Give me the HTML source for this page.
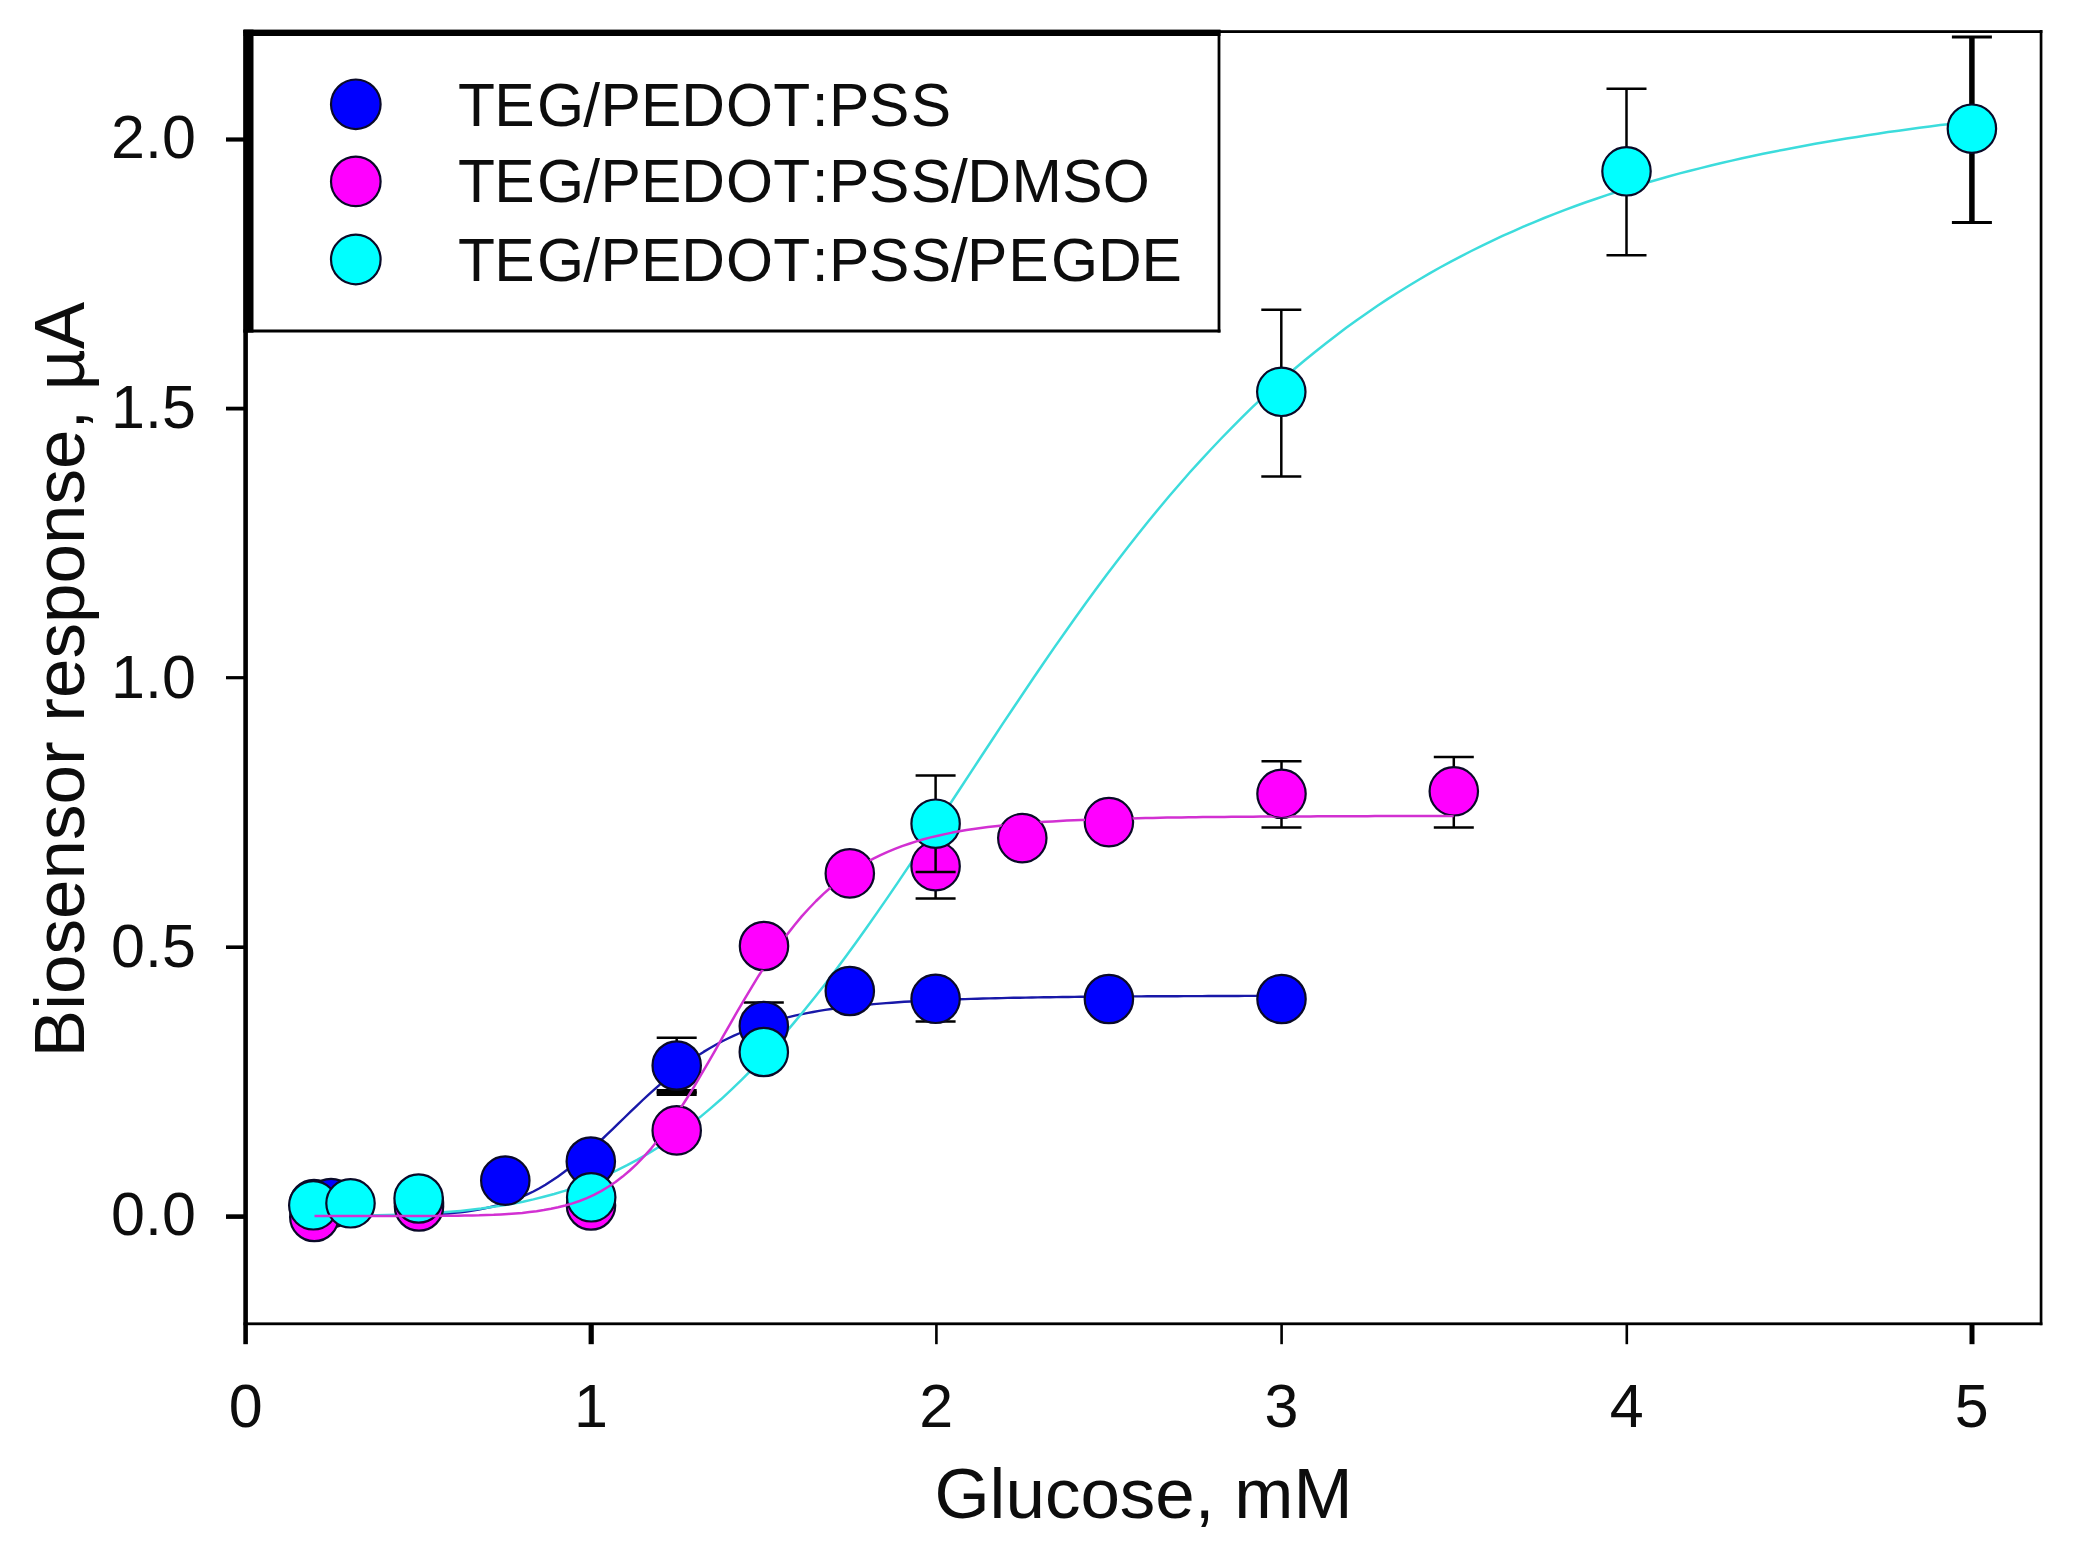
<!DOCTYPE html>
<html lang="en"><head><meta charset="utf-8"><title>Biosensor response vs glucose</title>
<style>html,body{margin:0;padding:0;background:#fff}body{width:2078px;height:1553px;overflow:hidden}</style></head>
<body>
<svg width="2078" height="1553" viewBox="0 0 2078 1553" style="display:block">
<rect width="2078" height="1553" fill="#fff"/>
<g fill="#000">
<rect x="243.3" y="30" width="4.6" height="1314.2"/>
<rect x="243.5" y="30.2" width="1798.9" height="2.8"/>
<rect x="2039.7" y="30" width="2.7" height="1295.2"/>
<rect x="243.5" y="1322.4" width="1798.9" height="2.8"/>
<rect x="243.5" y="29.6" width="10" height="303"/>
<rect x="243.5" y="29.6" width="977" height="6.4"/>
<rect x="1217.6" y="30" width="2.8" height="302.5"/>
<rect x="243.5" y="329.5" width="977" height="3"/>
<rect x="226" y="1214.3" width="19" height="4.6"/>
<rect x="226" y="945.4" width="19" height="3.6"/>
<rect x="226" y="676.1" width="19" height="3.2"/>
<rect x="226" y="406.7" width="19" height="3.8"/>
<rect x="226" y="137.4" width="19" height="4.2"/>
<rect x="588.6" y="1323" width="5.2" height="21.2"/>
<rect x="935.1" y="1323" width="2.6" height="21.2"/>
<rect x="1280.3" y="1323" width="2.6" height="21.2"/>
<rect x="1625.5" y="1323" width="2.6" height="21.2"/>
<rect x="1969.5" y="1323" width="5" height="21.2"/>
</g>
<polyline points="314.5,1216.0 320.6,1216.0 326.7,1216.0 332.8,1216.0 338.9,1216.0 344.9,1216.0 351.0,1216.0 357.1,1216.0 363.2,1215.9 369.3,1215.9 375.3,1215.9 381.4,1215.8 387.5,1215.8 393.6,1215.7 399.6,1215.6 405.7,1215.5 411.8,1215.3 417.9,1215.1 424.0,1214.9 430.0,1214.6 436.1,1214.3 442.2,1213.9 448.3,1213.5 454.4,1212.9 460.4,1212.2 466.5,1211.5 472.6,1210.6 478.7,1209.6 484.8,1208.4 490.8,1207.0 496.9,1205.5 503.0,1203.7 509.1,1201.8 515.1,1199.6 521.2,1197.1 527.3,1194.4 533.4,1191.5 539.5,1188.2 545.5,1184.7 551.6,1180.8 557.7,1176.7 563.8,1172.3 569.9,1167.6 575.9,1162.7 582.0,1157.6 588.1,1152.2 594.2,1146.7 600.3,1141.0 606.3,1135.2 612.4,1129.4 618.5,1123.4 624.6,1117.5 630.6,1111.6 636.7,1105.8 642.8,1100.0 648.9,1094.4 655.0,1088.9 661.0,1083.6 667.1,1078.4 673.2,1073.5 679.3,1068.7 685.4,1064.2 691.4,1059.9 697.5,1055.8 703.6,1051.9 709.7,1048.2 715.8,1044.8 721.8,1041.5 727.9,1038.5 734.0,1035.6 740.1,1033.0 746.1,1030.5 752.2,1028.1 758.3,1026.0 764.4,1023.9 770.5,1022.0 776.5,1020.3 782.6,1018.6 788.7,1017.1 794.8,1015.7 800.9,1014.4 806.9,1013.1 813.0,1012.0 819.1,1010.9 825.2,1009.9 831.3,1009.0 837.3,1008.1 843.4,1007.3 849.5,1006.6 855.6,1005.9 861.6,1005.3 867.7,1004.7 873.8,1004.1 879.9,1003.6 886.0,1003.1 892.0,1002.7 898.1,1002.2 904.2,1001.8 910.3,1001.5 916.4,1001.1 922.4,1000.8 928.5,1000.5 934.6,1000.2 940.7,1000.0 946.8,999.7 952.8,999.5 958.9,999.3 965.0,999.1 971.1,998.9 977.2,998.7 983.2,998.5 989.3,998.4 995.4,998.2 1001.5,998.1 1007.5,997.9 1013.6,997.8 1019.7,997.7 1025.8,997.6 1031.9,997.5 1037.9,997.4 1044.0,997.3 1050.1,997.2 1056.2,997.1 1062.3,997.0 1068.3,997.0 1074.4,996.9 1080.5,996.8 1086.6,996.8 1092.7,996.7 1098.7,996.7 1104.8,996.6 1110.9,996.6 1117.0,996.5 1123.0,996.5 1129.1,996.4 1135.2,996.4 1141.3,996.4 1147.4,996.3 1153.4,996.3 1159.5,996.3 1165.6,996.2 1171.7,996.2 1177.8,996.2 1183.8,996.1 1189.9,996.1 1196.0,996.1 1202.1,996.1 1208.2,996.0 1214.2,996.0 1220.3,996.0 1226.4,996.0 1232.5,996.0 1238.5,996.0 1244.6,995.9 1250.7,995.9 1256.8,995.9 1262.9,995.9 1268.9,995.9 1275.0,995.9 1281.1,995.9" fill="none" stroke="#1818a8" stroke-width="2.4" stroke-linejoin="round"/>
<polyline points="314.5,1215.9 325.0,1215.9 335.4,1215.9 345.8,1215.8 356.2,1215.7 366.6,1215.5 377.1,1215.3 387.5,1215.1 397.9,1214.7 408.3,1214.3 418.8,1213.9 429.2,1213.3 439.6,1212.6 450.0,1211.8 460.4,1210.9 470.9,1209.8 481.3,1208.6 491.7,1207.1 502.1,1205.5 512.5,1203.7 523.0,1201.7 533.4,1199.4 543.8,1196.8 554.2,1194.0 564.6,1190.9 575.1,1187.5 585.5,1183.7 595.9,1179.7 606.3,1175.2 616.8,1170.4 627.2,1165.2 637.6,1159.6 648.0,1153.6 658.4,1147.2 668.9,1140.3 679.3,1133.0 689.7,1125.3 700.1,1117.1 710.5,1108.4 721.0,1099.3 731.4,1089.7 741.8,1079.7 752.2,1069.2 762.6,1058.3 773.1,1046.9 783.5,1035.1 793.9,1022.9 804.3,1010.3 814.8,997.3 825.2,984.0 835.6,970.3 846.0,956.2 856.4,941.9 866.9,927.3 877.3,912.4 887.7,897.4 898.1,882.1 908.5,866.6 919.0,851.0 929.4,835.3 939.8,819.5 950.2,803.7 960.7,787.8 971.1,771.9 981.5,756.0 991.9,740.2 1002.3,724.4 1012.8,708.7 1023.2,693.2 1033.6,677.8 1044.0,662.5 1054.4,647.4 1064.9,632.5 1075.3,617.8 1085.7,603.3 1096.1,589.0 1106.5,575.0 1117.0,561.2 1127.4,547.7 1137.8,534.4 1148.2,521.5 1158.7,508.7 1169.1,496.3 1179.5,484.2 1189.9,472.3 1200.3,460.8 1210.8,449.5 1221.2,438.5 1231.6,427.8 1242.0,417.3 1252.4,407.2 1262.9,397.3 1273.3,387.7 1283.7,378.4 1294.1,369.3 1304.5,360.5 1315.0,352.0 1325.4,343.7 1335.8,335.7 1346.2,327.8 1356.7,320.3 1367.1,312.9 1377.5,305.8 1387.9,298.9 1398.3,292.3 1408.8,285.8 1419.2,279.5 1429.6,273.4 1440.0,267.5 1450.4,261.8 1460.9,256.3 1471.3,251.0 1481.7,245.8 1492.1,240.8 1502.5,235.9 1513.0,231.3 1523.4,226.7 1533.8,222.3 1544.2,218.0 1554.7,213.9 1565.1,209.9 1575.5,206.0 1585.9,202.3 1596.3,198.7 1606.8,195.1 1617.2,191.7 1627.6,188.4 1638.0,185.3 1648.4,182.2 1658.9,179.2 1669.3,176.3 1679.7,173.4 1690.1,170.7 1700.6,168.1 1711.0,165.5 1721.4,163.0 1731.8,160.6 1742.2,158.3 1752.7,156.0 1763.1,153.8 1773.5,151.7 1783.9,149.7 1794.3,147.7 1804.8,145.7 1815.2,143.8 1825.6,142.0 1836.0,140.2 1846.4,138.5 1856.9,136.9 1867.3,135.2 1877.7,133.7 1888.1,132.1 1898.6,130.7 1909.0,129.2 1919.4,127.8 1929.8,126.5 1940.2,125.1 1950.7,123.9 1961.1,122.6 1971.5,121.4" fill="none" stroke="#3cdcdc" stroke-width="2.5" stroke-linejoin="round"/>
<path d="M676.7 1037.8V1092.5" stroke="#000" stroke-width="2.5" fill="none"/><path d="M656.7 1037.8H696.7M656.7 1092.5H696.7" stroke="#000" stroke-width="2.5" fill="none"/>
<rect x="656.7" y="1089" width="40" height="7" fill="#000"/>
<path d="M763.8 1002.4V1050.0" stroke="#000" stroke-width="2.5" fill="none"/><path d="M743.8 1002.4H783.8M743.8 1050.0H783.8" stroke="#000" stroke-width="2.5" fill="none"/>
<path d="M935.6 999.0V1021.5" stroke="#000" stroke-width="2.5" fill="none"/><path d="M915.6 999.0H955.6M915.6 1021.5H955.6" stroke="#000" stroke-width="2.5" fill="none"/>
<circle cx="314.0" cy="1204.0" r="24.2" fill="#0000ff" stroke="#0a0a28" stroke-width="2.2"/>
<circle cx="331.0" cy="1203.0" r="24.2" fill="#0000ff" stroke="#0a0a28" stroke-width="2.2"/>
<circle cx="419.0" cy="1203.0" r="24.2" fill="#0000ff" stroke="#0a0a28" stroke-width="2.2"/>
<circle cx="505.3" cy="1180.6" r="24.2" fill="#0000ff" stroke="#0a0a28" stroke-width="2.2"/>
<circle cx="590.8" cy="1161.5" r="24.2" fill="#0000ff" stroke="#0a0a28" stroke-width="2.2"/>
<circle cx="676.7" cy="1065.5" r="24.2" fill="#0000ff" stroke="#0a0a28" stroke-width="2.2"/>
<circle cx="763.8" cy="1026.0" r="24.2" fill="#0000ff" stroke="#0a0a28" stroke-width="2.2"/>
<circle cx="849.8" cy="991.0" r="24.2" fill="#0000ff" stroke="#0a0a28" stroke-width="2.2"/>
<circle cx="935.6" cy="998.8" r="24.2" fill="#0000ff" stroke="#0a0a28" stroke-width="2.2"/>
<circle cx="1108.9" cy="999.0" r="24.2" fill="#0000ff" stroke="#0a0a28" stroke-width="2.2"/>
<circle cx="1281.5" cy="999.0" r="24.2" fill="#0000ff" stroke="#0a0a28" stroke-width="2.2"/>
<path d="M935.6 834.0V898.4" stroke="#000" stroke-width="2.5" fill="none"/><path d="M915.6 834.0H955.6M915.6 898.4H955.6" stroke="#000" stroke-width="2.5" fill="none"/>
<path d="M1281.5 761.3V827.5" stroke="#000" stroke-width="2.5" fill="none"/><path d="M1261.5 761.3H1301.5M1261.5 827.5H1301.5" stroke="#000" stroke-width="2.5" fill="none"/>
<path d="M1453.8 757.0V827.5" stroke="#000" stroke-width="2.5" fill="none"/><path d="M1433.8 757.0H1473.8M1433.8 827.5H1473.8" stroke="#000" stroke-width="2.5" fill="none"/>
<circle cx="314.3" cy="1217.0" r="24.2" fill="#ff00ff" stroke="#0a0a28" stroke-width="2.2"/>
<circle cx="419.0" cy="1206.5" r="24.2" fill="#ff00ff" stroke="#0a0a28" stroke-width="2.2"/>
<circle cx="591.0" cy="1205.5" r="24.2" fill="#ff00ff" stroke="#0a0a28" stroke-width="2.2"/>
<circle cx="676.7" cy="1130.4" r="24.2" fill="#ff00ff" stroke="#0a0a28" stroke-width="2.2"/>
<circle cx="764.0" cy="946.0" r="24.2" fill="#ff00ff" stroke="#0a0a28" stroke-width="2.2"/>
<circle cx="849.8" cy="873.4" r="24.2" fill="#ff00ff" stroke="#0a0a28" stroke-width="2.2"/>
<circle cx="935.6" cy="866.2" r="24.2" fill="#ff00ff" stroke="#0a0a28" stroke-width="2.2"/>
<circle cx="1022.3" cy="838.1" r="24.2" fill="#ff00ff" stroke="#0a0a28" stroke-width="2.2"/>
<circle cx="1108.9" cy="822.1" r="24.2" fill="#ff00ff" stroke="#0a0a28" stroke-width="2.2"/>
<circle cx="1281.5" cy="793.8" r="24.2" fill="#ff00ff" stroke="#0a0a28" stroke-width="2.2"/>
<circle cx="1453.8" cy="791.3" r="24.2" fill="#ff00ff" stroke="#0a0a28" stroke-width="2.2"/>
<path d="M935.6 775.5V872.0" stroke="#000" stroke-width="2.5" fill="none"/><path d="M915.6 775.5H955.6M915.6 872.0H955.6" stroke="#000" stroke-width="2.5" fill="none"/>
<path d="M1281.3 309.7V476.4" stroke="#000" stroke-width="2.5" fill="none"/><path d="M1261.3 309.7H1301.3M1261.3 476.4H1301.3" stroke="#000" stroke-width="2.5" fill="none"/>
<path d="M1626.5 88.7V255.3" stroke="#000" stroke-width="2.5" fill="none"/><path d="M1606.5 88.7H1646.5M1606.5 255.3H1646.5" stroke="#000" stroke-width="2.5" fill="none"/>
<path d="M1971.9 37.0V222.4" stroke="#000" stroke-width="5.5" fill="none"/><path d="M1951.9 37.0H1991.9M1951.9 222.4H1991.9" stroke="#000" stroke-width="3" fill="none"/>
<circle cx="313.3" cy="1205.3" r="24.2" fill="#00ffff" stroke="#0a0a28" stroke-width="2.2"/>
<circle cx="350.5" cy="1203.3" r="24.2" fill="#00ffff" stroke="#0a0a28" stroke-width="2.2"/>
<circle cx="418.6" cy="1198.5" r="24.2" fill="#00ffff" stroke="#0a0a28" stroke-width="2.2"/>
<circle cx="591.2" cy="1197.3" r="24.2" fill="#00ffff" stroke="#0a0a28" stroke-width="2.2"/>
<circle cx="763.8" cy="1052.0" r="24.2" fill="#00ffff" stroke="#0a0a28" stroke-width="2.2"/>
<circle cx="935.6" cy="823.7" r="24.2" fill="#00ffff" stroke="#0a0a28" stroke-width="2.2"/>
<circle cx="1281.3" cy="391.8" r="24.2" fill="#00ffff" stroke="#0a0a28" stroke-width="2.2"/>
<circle cx="1626.5" cy="171.3" r="24.2" fill="#00ffff" stroke="#0a0a28" stroke-width="2.2"/>
<circle cx="1971.9" cy="128.7" r="24.2" fill="#00ffff" stroke="#0a0a28" stroke-width="2.2"/>
<mask id="mk" maskUnits="userSpaceOnUse" x="0" y="0" width="2078" height="1553"><rect width="2078" height="1553" fill="#fff"/><circle cx="676.7" cy="1130.4" r="24" fill="#000"/><circle cx="764.0" cy="946.0" r="24" fill="#000"/><circle cx="849.8" cy="873.4" r="24" fill="#000"/><circle cx="935.6" cy="866.2" r="24" fill="#000"/><circle cx="1022.3" cy="838.1" r="24" fill="#000"/><circle cx="1108.9" cy="822.1" r="24" fill="#000"/><circle cx="1281.5" cy="793.8" r="24" fill="#000"/><circle cx="1453.8" cy="791.3" r="24" fill="#000"/></mask>
<g mask="url(#mk)"><polyline points="314.5,1216.0 321.7,1216.0 328.9,1216.0 336.0,1216.0 343.2,1216.0 350.4,1216.0 357.5,1216.0 364.7,1216.0 371.9,1216.0 379.0,1216.0 386.2,1216.0 393.3,1216.0 400.5,1216.0 407.7,1216.0 414.8,1216.0 422.0,1215.9 429.2,1215.9 436.3,1215.9 443.5,1215.8 450.7,1215.8 457.8,1215.7 465.0,1215.6 472.2,1215.4 479.3,1215.3 486.5,1215.0 493.7,1214.8 500.8,1214.4 508.0,1214.0 515.1,1213.5 522.3,1212.9 529.5,1212.1 536.6,1211.2 543.8,1210.1 551.0,1208.8 558.1,1207.3 565.3,1205.5 572.5,1203.4 579.6,1201.0 586.8,1198.1 594.0,1194.9 601.1,1191.1 608.3,1186.8 615.5,1182.0 622.6,1176.6 629.8,1170.5 636.9,1163.8 644.1,1156.4 651.3,1148.3 658.4,1139.5 665.6,1130.0 672.8,1119.9 679.9,1109.2 687.1,1098.0 694.3,1086.3 701.4,1074.2 708.6,1061.9 715.8,1049.3 722.9,1036.7 730.1,1024.1 737.2,1011.6 744.4,999.3 751.6,987.4 758.7,975.7 765.9,964.6 773.1,953.9 780.2,943.7 787.4,934.1 794.6,925.0 801.7,916.4 808.9,908.5 816.1,901.0 823.2,894.1 830.4,887.7 837.6,881.8 844.7,876.4 851.9,871.4 859.0,866.8 866.2,862.5 873.4,858.6 880.5,855.1 887.7,851.8 894.9,848.9 902.0,846.1 909.2,843.7 916.4,841.4 923.5,839.3 930.7,837.4 937.9,835.7 945.0,834.1 952.2,832.6 959.3,831.3 966.5,830.1 973.7,829.0 980.8,827.9 988.0,827.0 995.2,826.2 1002.3,825.4 1009.5,824.7 1016.7,824.0 1023.8,823.4 1031.0,822.8 1038.2,822.3 1045.3,821.8 1052.5,821.4 1059.7,821.0 1066.8,820.6 1074.0,820.3 1081.1,820.0 1088.3,819.7 1095.5,819.4 1102.6,819.2 1109.8,819.0 1117.0,818.7 1124.1,818.5 1131.3,818.4 1138.5,818.2 1145.6,818.0 1152.8,817.9 1160.0,817.8 1167.1,817.6 1174.3,817.5 1181.4,817.4 1188.6,817.3 1195.8,817.2 1202.9,817.1 1210.1,817.1 1217.3,817.0 1224.4,816.9 1231.6,816.8 1238.8,816.8 1245.9,816.7 1253.1,816.7 1260.3,816.6 1267.4,816.6 1274.6,816.5 1281.8,816.5 1288.9,816.5 1296.1,816.4 1303.2,816.4 1310.4,816.4 1317.6,816.3 1324.7,816.3 1331.9,816.3 1339.1,816.2 1346.2,816.2 1353.4,816.2 1360.6,816.2 1367.7,816.2 1374.9,816.1 1382.1,816.1 1389.2,816.1 1396.4,816.1 1403.5,816.1 1410.7,816.1 1417.9,816.1 1425.0,816.0 1432.2,816.0 1439.4,816.0 1446.5,816.0 1453.7,816.0" fill="none" stroke="#d230d2" stroke-width="2.5" stroke-linejoin="round"/></g>
<circle cx="355.8" cy="104.3" r="24.8" fill="#0000ff" stroke="#0a0a28" stroke-width="2.2"/>
<circle cx="355.8" cy="181.4" r="24.8" fill="#ff00ff" stroke="#0a0a28" stroke-width="2.2"/>
<circle cx="355.8" cy="259.5" r="24.8" fill="#00ffff" stroke="#0a0a28" stroke-width="2.2"/>
<g font-family="'Liberation Sans', Arial, sans-serif" fill="#0d0d0d">
<g font-size="60.5px">
<text x="458.1 494.2 537.0 583.2 600.4 641.0 681.3 725.9 773.3 811.7 829.0 868.9 910.7" y="125.5">TEG/PEDOT:PSS</text>
<text x="458.1 494.2 537.0 583.2 600.4 641.0 681.3 725.9 773.3 811.7 829.0 868.9 910.7 950.9 967.2 1011.6 1062.3 1102.7" y="202">TEG/PEDOT:PSS/DMSO</text>
<text x="458.1 494.2 537.0 583.2 600.4 641.0 681.3 725.9 773.3 811.7 829.0 868.9 910.7 950.9 967.1 1008.2 1051.0 1098.1 1141.5" y="281">TEG/PEDOT:PSS/PEGDE</text>
<g font-size="61px">
<text x="195.9" y="1234.7" text-anchor="end">0.0</text>
<text x="195.9" y="967.2" text-anchor="end">0.5</text>
<text x="195.9" y="697.7" text-anchor="end">1.0</text>
<text x="195.9" y="427.7" text-anchor="end">1.5</text>
<text x="195.9" y="158.2" text-anchor="end">2.0</text>
<text x="245.8" y="1426.8" text-anchor="middle">0</text>
<text x="591.0" y="1426.8" text-anchor="middle">1</text>
<text x="936.2" y="1426.8" text-anchor="middle">2</text>
<text x="1281.4" y="1426.8" text-anchor="middle">3</text>
<text x="1626.6" y="1426.8" text-anchor="middle">4</text>
<text x="1971.8" y="1426.8" text-anchor="middle">5</text>
</g></g>
<g font-size="71px">
<text x="1143.5" y="1518" text-anchor="middle">Glucose, mM</text>
<text transform="translate(83.8 679.5) rotate(-90)" text-anchor="middle">Biosensor response, µA</text>
</g></g>
</svg>
</body></html>
